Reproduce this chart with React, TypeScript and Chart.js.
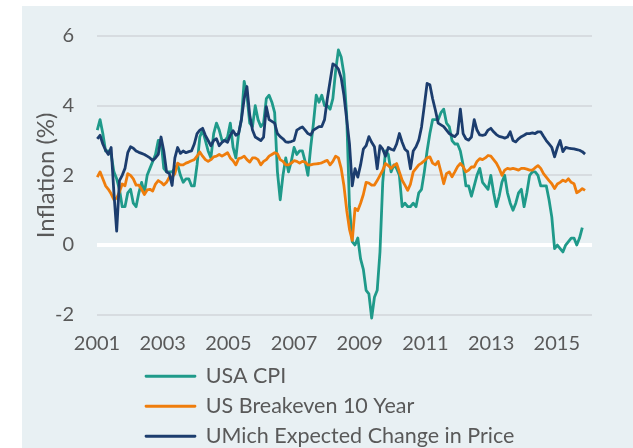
import React, { useEffect, useRef } from 'react';
import { Chart, registerables } from 'chart.js';

Chart.register(...registerables);

// Monthly series, April 2001 .. December 2015
const FIRST_YEAR = 2001;
const FIRST_MONTH = 4; // April

const tickLabels = ['2001', '2003', '2005', '2007', '2009', '2011', '2013', '2015'];

const seriesNames = ['USA CPI', 'US Breakeven 10 Year', 'UMich Expected Change in Price'];

const usaCpi = [
  3.3, 3.6, 3.2, 2.7, 2.7, 2.6, 2.1, 1.9, 1.6,
  1.1, 1.1, 1.5, 1.6, 1.2, 1.1, 1.5, 1.8, 1.5, 2.0, 2.2, 2.4,
  2.6, 3.0, 3.0, 2.2, 2.1, 2.1, 2.1, 2.2, 2.3, 2.0, 1.8, 1.9,
  1.9, 1.7, 1.7, 2.3, 3.1, 3.3, 3.0, 2.7, 2.5, 3.2, 3.5, 3.3,
  3.0, 3.0, 3.1, 3.5, 2.8, 2.5, 3.2, 3.6, 4.7, 4.3, 3.5, 3.4,
  4.0, 3.6, 3.4, 3.5, 4.2, 4.3, 4.1, 3.8, 2.1, 1.3, 2.0, 2.5,
  2.1, 2.4, 2.8, 2.6, 2.7, 2.7, 2.4, 2.0, 2.8, 3.5, 4.3, 4.1,
  4.3, 4.0, 4.0, 3.9, 4.2, 5.0, 5.6, 5.4, 4.9, 3.7, 1.1, 0.1,
  0.0, 0.2, -0.4, -0.7, -1.3, -1.4, -2.1, -1.5, -1.3, -0.2, 1.8, 2.7,
  2.6, 2.1, 2.3, 2.2, 2.0, 1.1, 1.2, 1.1, 1.1, 1.2, 1.1, 1.5,
  1.6, 2.1, 2.7, 3.2, 3.6, 3.6, 3.6, 3.8, 3.9, 3.5, 3.4, 3.0,
  2.9, 2.9, 2.7, 2.3, 1.7, 1.7, 1.4, 1.7, 2.0, 2.2, 1.8, 1.7,
  1.6, 2.0, 1.5, 1.1, 1.4, 1.8, 2.0, 1.5, 1.2, 1.0, 1.2, 1.5,
  1.6, 1.1, 1.5, 2.0, 2.1, 2.1, 2.0, 1.7, 1.7, 1.7, 1.3, 0.8,
  -0.1, 0.0, -0.1, -0.2, 0.0, 0.1, 0.2, 0.2, 0.0, 0.2, 0.5, null,
];

const breakeven10y = [
  1.95, 2.1, 1.9, 1.7, 1.6, 1.47, 1.3, 1.35, 1.52,
  1.75, 1.7, 2.05, 2.0, 1.9, 1.72, 1.72, 1.6, 1.45, 1.58, 1.6, 1.55,
  1.75, 1.85, 1.8, 1.72, 1.8, 1.95, 1.95, 2.05, 2.35, 2.3, 2.3, 2.35,
  2.38, 2.42, 2.45, 2.55, 2.67, 2.55, 2.45, 2.4, 2.45, 2.53, 2.55, 2.6,
  2.55, 2.6, 2.65, 2.5, 2.42, 2.3, 2.48, 2.5, 2.55, 2.45, 2.38, 2.5,
  2.5, 2.45, 2.3, 2.4, 2.45, 2.55, 2.6, 2.65, 2.62, 2.45, 2.4, 2.3,
  2.3, 2.35, 2.42, 2.4, 2.35, 2.4, 2.38, 2.3, 2.3, 2.32, 2.33, 2.34,
  2.36, 2.4, 2.43, 2.3, 2.4, 2.55, 2.5, 2.2, 1.7, 1.0, 0.45, 0.13,
  1.05, 0.99, 1.2, 1.45, 1.8, 1.78, 1.72, 1.72, 1.85, 2.0, 2.15, 2.34,
  2.28, 2.2, 2.28, 2.34, 2.1, 1.86, 1.72, 1.57, 1.75, 2.1, 2.2, 2.3,
  2.35, 2.42, 2.5, 2.53, 2.35, 2.3, 2.4, 2.1, 1.76, 2.05, 2.1, 1.96,
  2.1, 2.25, 2.34, 2.25, 2.1, 2.15, 2.24, 2.24, 2.4, 2.48, 2.45, 2.5,
  2.57, 2.55, 2.45, 2.35, 2.2, 2.0, 2.15, 2.2, 2.18, 2.2, 2.18, 2.15,
  2.2, 2.2, 2.18, 2.15, 2.15, 2.22, 2.28, 2.2, 2.05, 1.95, 1.85, 1.76,
  1.62, 1.75, 1.8, 1.86, 1.82, 1.9, 1.8, 1.76, 1.5, 1.55, 1.62, 1.57,
];

const umichExpected = [
  3.05, 3.15, 2.9, 2.72, 2.6, 2.8, 1.5, 0.4, 1.85,
  2.0, 2.2, 2.65, 2.82, 2.78, 2.7, 2.66, 2.63, 2.6, 2.55, 2.5, 2.43,
  2.5, 2.6, 3.1, 2.7, 2.1, 2.05, 1.71, 2.5, 2.8, 2.63, 2.7, 2.65,
  2.68, 2.7, 2.9, 3.2, 3.3, 3.35, 3.15, 3.0, 2.85, 3.0, 3.05, 2.85,
  2.95, 3.0, 2.95, 3.15, 3.28, 3.15, 3.2, 3.6, 4.2, 4.55, 3.73, 3.3,
  3.1, 3.05, 3.0, 3.1, 3.97, 3.6, 3.55, 3.5, 3.2, 3.11, 3.05, 2.96,
  2.95, 2.97, 3.0, 3.3, 3.35, 3.39, 3.3, 3.2, 3.16, 3.3, 3.35, 3.4,
  3.4, 3.6, 4.2, 4.7, 5.2, 5.15, 5.05, 4.8, 4.3, 3.6, 2.9, 1.7,
  2.19, 1.95, 2.3, 2.75, 2.85, 3.11, 2.95, 2.82, 2.19, 2.85, 2.75, 2.55,
  2.8, 2.75, 2.72, 2.9, 3.2, 2.95, 2.75, 2.68, 2.19, 2.7, 2.82, 3.01,
  3.39, 4.0, 4.64, 4.6, 4.2, 3.87, 3.5, 3.45, 3.4, 3.3, 3.2, 3.15,
  3.11, 3.2, 3.9, 3.2, 3.05, 3.01, 3.1, 3.6, 3.3, 3.16, 3.15, 3.17,
  3.3, 3.35, 3.25, 3.17, 3.12, 3.1, 3.07, 3.1, 3.25, 3.0, 2.96, 3.05,
  3.11, 3.15, 3.2, 3.2, 3.22, 3.2, 3.25, 3.25, 3.12, 3.0, 2.9, 2.8,
  2.53, 2.8, 3.0, 2.68, 2.8, 2.78, 2.77, 2.76, 2.74, 2.72, 2.68, 2.61,
];

// x axis in "months since Jan 2001"
const X_MIN = 2.9;
const X_MAX = 181.5;
const TICK_START = 2.9;
const TICK_STEP = 23.7;

const COLORS = ['#1f9a8a', '#ef7d0c', '#1c3d6e'];
const BG = '#e8f0f3';
const TEXT = '#595959';
const FONT = 'Lato, "Open Sans", sans-serif';
const LEGEND_WRAP = 280;
const LEGEND_LEFT = 137.5;
const LEGEND_FONT = 21.5;
const LEGEND_PAD = 8.5;

const monthIndexOf = (i: number) => (FIRST_YEAR - 2001) * 12 + (FIRST_MONTH - 1) + i;
const toPoints = (vals: (number | null)[]) => vals.map((v, i) => ({ x: monthIndexOf(i), y: v }));

const bgPlugin = {
  id: 'bgFill',
  beforeDraw(chart: any) {
    const { ctx, width, height } = chart;
    ctx.save();
    ctx.fillStyle = '#ffffff';
    ctx.fillRect(0, 0, width, height);
    ctx.fillStyle = BG;
    ctx.fillRect(22, 6, width - 22, height - 6);
    ctx.restore();
  },
};

const legendLayoutPlugin = {
  id: 'legendLayout',
  beforeLayout(chart: any) {
    const lg = chart.legend;
    if (lg && !lg.__patched) {
      const orig = lg.update.bind(lg);
      lg.update = (w: number, h: number, m: any) => {
        orig(Math.min(w, LEGEND_WRAP), h, m);
        lg.height = 91;
      };
      // draw without clipping to the (narrow) legend box
      lg.draw = () => {
        if (!lg.options.display) return;
        lg.ctx.save();
        lg._draw();
        lg.ctx.restore();
      };
      lg.__patched = true;
    }
  },
  afterLayout(chart: any) {
    const lg = chart.legend;
    if (lg) {
      lg.left = LEGEND_LEFT;
      lg.right = LEGEND_LEFT + LEGEND_WRAP;
      lg.width = LEGEND_WRAP;
    }
  },
};

export default function App() {
  const canvasRef = useRef<HTMLCanvasElement | null>(null);

  useEffect(() => {
    if (!canvasRef.current) return;
    const seriesValues = [usaCpi, breakeven10y, umichExpected];
    const chart = new Chart(canvasRef.current, {
      type: 'line',
      data: {
        datasets: seriesValues.map((vals, k) => ({
          label: seriesNames[k],
          data: toPoints(vals),
          borderColor: COLORS[k],
          backgroundColor: COLORS[k],
          borderWidth: 2.8,
          pointRadius: 0,
          tension: 0,
          borderJoinStyle: 'round',
          clip: false,
          order: 3 - k,
        })),
      },
      options: {
        responsive: false,
        animation: false,
        events: [],
        layout: { padding: { left: 22, top: 36, right: 41, bottom: 0 } },
        font: { family: FONT },
        plugins: {
          tooltip: { enabled: false },
          legend: {
            position: 'bottom',
            align: 'start',
            labels: {
              boxWidth: 49,
              boxHeight: 0,
              padding: LEGEND_PAD,
              color: TEXT,
              font: { family: FONT, size: LEGEND_FONT },
              sort: (a: any, b: any) => a.datasetIndex - b.datasetIndex,
            },
          },
        },
        scales: {
          x: {
            type: 'linear',
            min: X_MIN,
            max: X_MAX,
            grid: { display: false },
            border: { display: false },
            afterBuildTicks: (s: any) => {
              s.ticks = tickLabels.map((_, i) => ({ value: TICK_START + i * TICK_STEP }));
            },
            afterFit: (s: any) => {
              s.height = 42.3;
            },
            ticks: {
              autoSkip: false,
              maxRotation: 0,
              padding: 9,
              color: TEXT,
              font: { family: FONT, size: 20 },
              callback: (_v: any, i: number) => tickLabels[i],
            },
          },
          y: {
            min: -2,
            max: 6,
            border: { display: false },
            grid: {
              drawTicks: false,
              color: (c: any) => (c.tick && c.tick.value === 0 ? '#ffffff' : '#d7dce0'),
              lineWidth: (c: any) => (c.tick && c.tick.value === 0 ? 4 : 2),
            },
            ticks: {
              stepSize: 2,
              padding: 23,
              color: TEXT,
              font: { family: FONT, size: 20 },
            },
            title: {
              display: true,
              text: 'Inflation (%)',
              color: TEXT,
              font: { family: FONT, size: 24 },
              padding: { top: 9.4, bottom: 0 },
            },
            afterFit: (s: any) => {
              s.width = 75;
            },
          },
        },
      },
      plugins: [bgPlugin, legendLayoutPlugin],
    } as any);
    return () => chart.destroy();
  }, []);

  return (
    <div style={{ position: 'absolute', left: 0, top: 0, width: 633, height: 448 }}>
      <canvas ref={canvasRef} width={633} height={448} style={{ display: 'block' }} />
    </div>
  );
}
